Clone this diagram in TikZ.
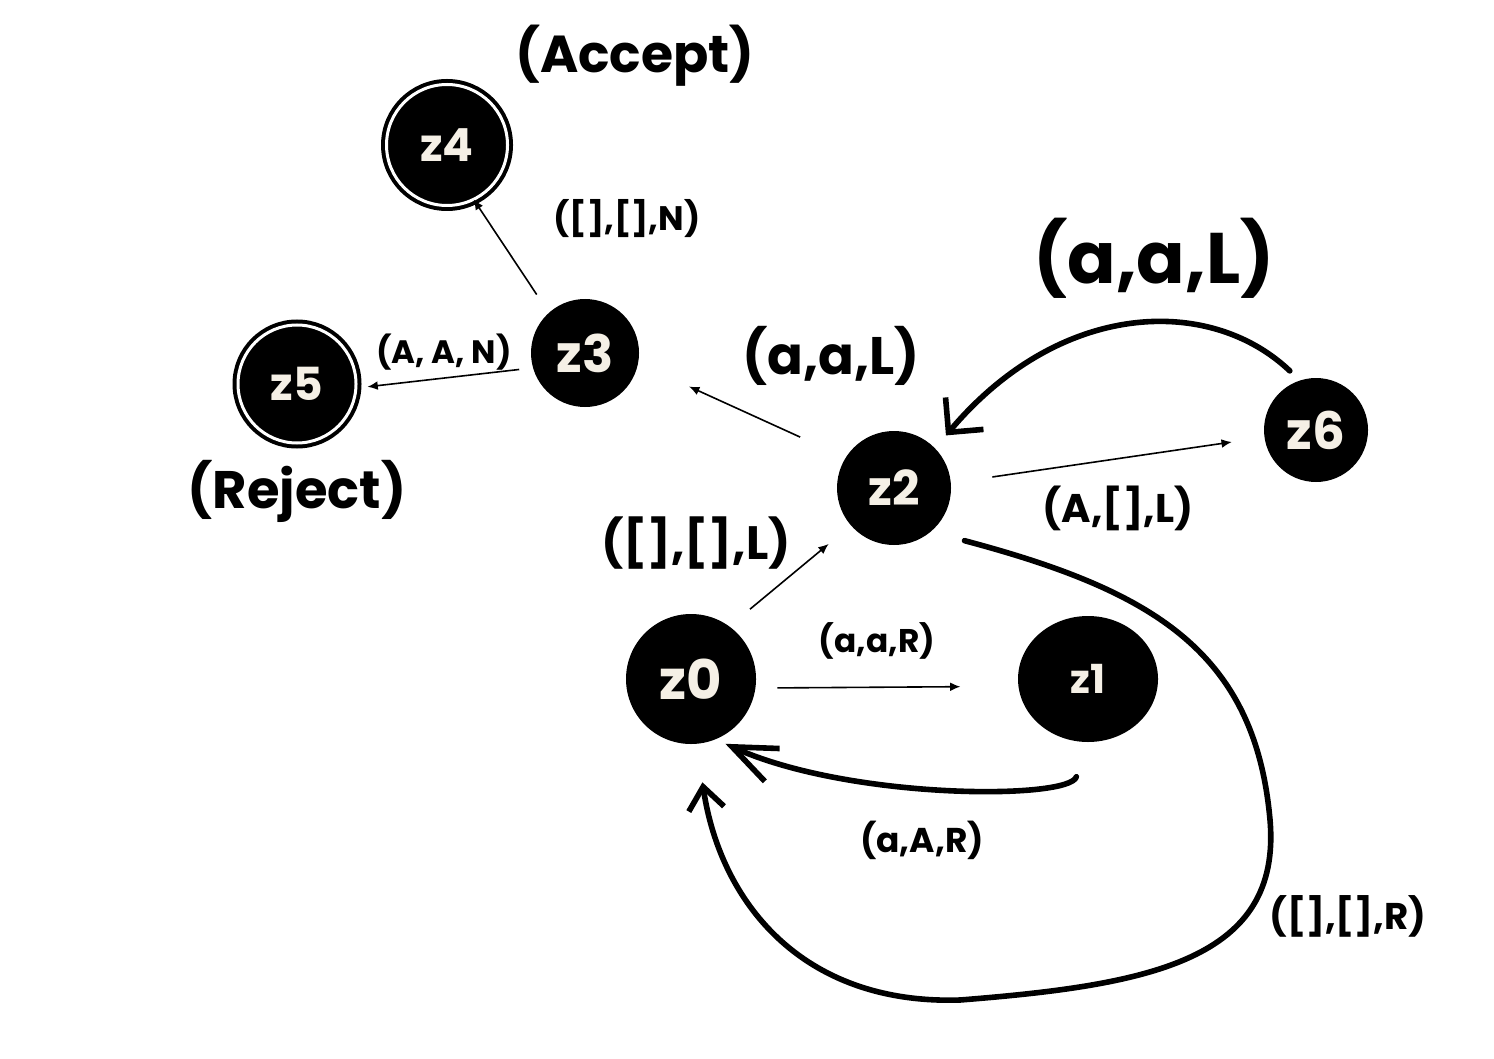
\documentclass[tikz,border=0pt]{standalone}
\usepackage{fontspec}
\setmainfont{Poppins}
\usetikzlibrary{arrows.meta,shapes.geometric,positioning}
\definecolor{statetext}{RGB}{245,240,230}
\newcommand{\fsz}[1]{\fontsize{#1}{#1}\selectfont}

\begin{document}
\begin{tikzpicture}[
		x=0.25pt, y=-0.25pt,
		state/.style  = {circle, fill=black, inner sep=0pt, outer sep=0pt, text=statetext},
		accept/.style = {state, draw=black, line width=1pt, double=white, double distance=0.75pt},
		trans/.style  = {inner sep=0pt, font=\bfseries},
		thin edge/.style = {-{Latex[length=2.6pt,width=2.2pt]}, line width=0.4pt},
		hand edge/.style = {line width=1.4pt, line cap=round, line join=round}]
		
		% page
		\fill[white] (0,0) rectangle (1494,1058);
		
		% states
		\node[accept, minimum size=30.25pt, font=\bfseries\fsz{11.4}] (z4) at (447,145) {z4};
		\node[accept, minimum size=29.5pt, font=\bfseries\fsz{11.4}] (z5) at (297,384) {z5};
		\node[state, minimum size=27pt, font=\bfseries\fsz{12.9}] (z3) at (585,353) {z3};
		\node[state, minimum size=28.5pt, font=\bfseries\fsz{12}] (z2) at (894,488) {z2};
		\node[state, minimum size=26pt, font=\bfseries\fsz{12.9}] (z6) at (1316,430) {z6};
		\node[state, minimum size=32.5pt, font=\bfseries\fsz{13.6}] (z0) at (691,679) {z0};
		\node[state, ellipse, minimum width=35pt, minimum height=31.5pt, font=\bfseries\fsz{10}] (z1) at (1088,679) {z1};
		
		% texts
		\node[trans, font=\bfseries\fsz{13}] (acc) at (635,56) {(Accept)};
		\node[trans, font=\bfseries\fsz{13.2}] (rej) at (297,491) {(Reject)};
		\node[trans, font=\bfseries\fsz{8.5}] (t34) at (627,219) {([],[],N)};
		\node[trans, font=\bfseries\fsz{8.1}] (t35) at (444,352) {(A, A, N)};
		\node[trans, font=\bfseries\fsz{13.2}] (t23) at (831,356) {(a,a,L)};
		\node[trans, font=\bfseries\fsz{17.9}] (t62) at (1154,258) {(a,a,L)};
		\node[trans, font=\bfseries\fsz{10}] (t26) at (1118,508) {(A,[],L)};
		\node[trans, font=\bfseries\fsz{11.7}] (t02) at (696,543) {([],[],L)};
		\node[trans, font=\bfseries\fsz{8.2}] (t01) at (877,641) {(a,a,R)};
		\node[trans, font=\bfseries\fsz{8.6}] (t10) at (922,840) {(a,A,R)};
		\node[trans, font=\bfseries\fsz{9.3}] (t20) at (1348,916) {([],[],R)};
		
		% thin transitions
		\draw[thin edge, shorten <=5.5pt] (z3.132) -- (z4.-64);
		\draw[thin edge, shorten <=3.5pt, shorten >=2.9pt] (z3.196) -- (z5.-4);
		\draw[thin edge, shorten <=12.5pt, shorten >=14pt] (z2.148) -- (z3.-11);
		\draw[thin edge, shorten <=10.5pt, shorten >=8.25pt] (z2.5) -- (z6.188);
		\draw[thin edge, shorten <=6.75pt, shorten >=7.25pt] (z0.54) -- (z2.221);
		\draw[thin edge, shorten <=5.5pt, shorten >=14.5pt] (z0.-8) -- (z1.186);
		
		% hand drawn transitions
		\draw[hand edge, -{Straight Barb[length=6.2pt,width=12.4pt]}, shorten <=3.5pt, shorten >=4.25pt]
		(z6.108) .. controls (1210,295) and (1060,300) .. (z2.44);
		\draw[hand edge, -{Straight Barb[length=11pt,width=9pt]}, shorten <=9pt, shorten >=2.75pt]
		(z1.-92) .. controls (1070,800) and (850,800) .. (z0.-68);
		\draw[hand edge, -{Straight Barb[length=5.6pt,width=8.9pt]}, shorten <=8.75pt, shorten >=9.75pt]
		(z2.-50) .. controls (1150,590) and (1255,650) .. (1270,820)
		.. controls (1282,960) and (1150,985) .. (960,1000)
		.. controls (800,1005) and (720,900) .. (z0.-85);
		
	\end{tikzpicture}
\end{document}
